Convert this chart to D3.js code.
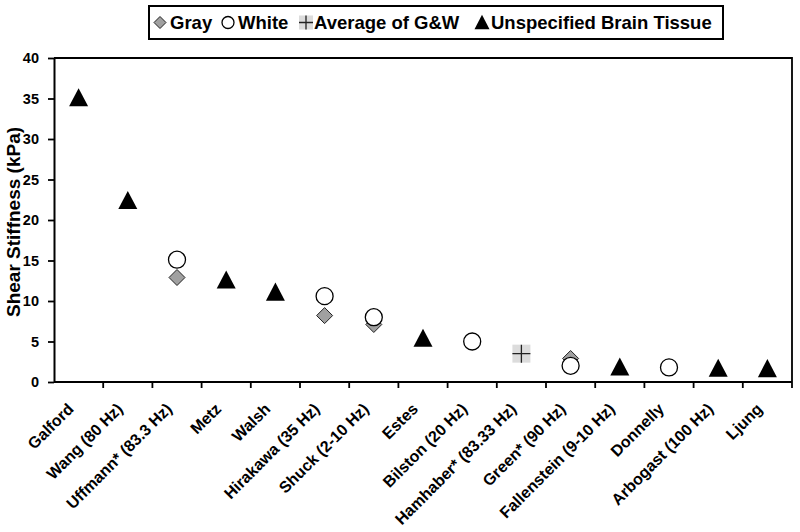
<!DOCTYPE html>
<html>
<head>
<meta charset="utf-8">
<script src="https://cdn.jsdelivr.net/npm/d3@7"></script>
<style>
  html, body { margin: 0; padding: 0; background: #fff; }
  text { font-family: "Liberation Sans", Arial, sans-serif; font-weight: bold; fill: #000; }
</style>
</head>
<body>
<svg id="chart" width="800" height="532"></svg>
<script>
const categories = ["Galford", "Wang (80 Hz)", "Uffmann* (83.3 Hz)", "Metz", "Walsh", "Hirakawa (35 Hz)",
  "Shuck (2-10 Hz)", "Estes", "Bilston (20 Hz)", "Hamhaber* (83.33 Hz)", "Green* (90 Hz)",
  "Fallenstein (9-10 Hz)", "Donnelly", "Arbogast (100 Hz)", "Ljung"];

const grayValues = [
  {cat: "Uffmann* (83.3 Hz)", v: 12.9},
  {cat: "Hirakawa (35 Hz)", v: 8.2},
  {cat: "Shuck (2-10 Hz)", v: 7.1},
  {cat: "Green* (90 Hz)", v: 2.9}
];
const whiteValues = [
  {cat: "Uffmann* (83.3 Hz)", v: 15.1},
  {cat: "Hirakawa (35 Hz)", v: 10.6},
  {cat: "Shuck (2-10 Hz)", v: 8.0},
  {cat: "Bilston (20 Hz)", v: 5.0},
  {cat: "Green* (90 Hz)", v: 2.0},
  {cat: "Donnelly", v: 1.8}
];
const averageValues = [
  {cat: "Hamhaber* (83.33 Hz)", v: 3.5}
];
const unspecifiedValues = [
  {cat: "Galford", v: 35.1},
  {cat: "Wang (80 Hz)", v: 22.4},
  {cat: "Metz", v: 12.6},
  {cat: "Walsh", v: 11.1},
  {cat: "Estes", v: 5.4},
  {cat: "Fallenstein (9-10 Hz)", v: 1.85},
  {cat: "Arbogast (100 Hz)", v: 1.7},
  {cat: "Ljung", v: 1.65}
];
const yTicks = [0, 5, 10, 15, 20, 25, 30, 35, 40];
const legendLabels = ["Gray", "White", "Average of G&W", "Unspecified Brain Tissue"];
const yTitle = "Shear Stiffness (kPa)";

const svg = d3.select("#chart");
const pLeft = 54, pRight = 792, pTop = 58, pBottom = 382;

const x = d3.scaleBand().domain(categories).range([pLeft, pRight]).paddingInner(0).paddingOuter(0);
const y = d3.scaleLinear().domain([0, 40]).range([pBottom, pTop]);
const cx = c => x(c) + x.bandwidth() / 2;

// plot border (top & right)
svg.append("path")
  .attr("d", `M${pLeft},${pTop}H${pRight}V${pBottom}`)
  .attr("fill", "none").attr("stroke", "#000").attr("stroke-width", 1.8);

// Y axis
const yAxis = svg.append("g").attr("transform", `translate(${pLeft},0)`)
  .call(d3.axisLeft(y).tickValues(yTicks).tickSize(6).tickSizeOuter(0).tickPadding(9));
yAxis.select(".domain").attr("stroke-width", 2);
yAxis.selectAll(".tick line").attr("stroke-width", 1.8);
yAxis.selectAll(".tick text").style("font-size", "14.5px").style("font-family", "Liberation Sans, Arial, sans-serif").style("font-weight", "bold").attr("fill", "#000");

// X axis line and ticks at category boundaries
svg.append("line").attr("x1", pLeft).attr("x2", pRight).attr("y1", pBottom).attr("y2", pBottom)
  .attr("stroke", "#000").attr("stroke-width", 2);
const bounds = categories.map(c => x(c)).concat([pRight]);
svg.append("g").selectAll("line").data(bounds.slice(1)).join("line")
  .attr("x1", d => d).attr("x2", d => d).attr("y1", pBottom).attr("y2", pBottom + 6)
  .attr("stroke", "#000").attr("stroke-width", 1.8);

// X labels
svg.append("g").selectAll("text").data(categories).join("text")
  .attr("transform", d => `translate(${cx(d) - 8},${pBottom + 24}) rotate(-45)`)
  .attr("text-anchor", "end")
  .attr("dy", "0.35em")
  .style("font-size", "16px")
  .text(d => d);

// Y title
svg.append("text")
  .attr("transform", `translate(20,${(pTop + pBottom) / 2 + 2}) rotate(-90)`)
  .attr("text-anchor", "middle")
  .style("font-size", "19px")
  .text(yTitle);

// marker drawers
function diamond(g, px, py, s) {
  g.append("path").attr("d", `M${px},${py - s}L${px + s},${py}L${px},${py + s}L${px - s},${py}Z`)
    .attr("fill", "#a0a0a0").attr("stroke", "#222").attr("stroke-width", 1);
}
function circle(g, px, py, r) {
  g.append("circle").attr("cx", px).attr("cy", py).attr("r", r)
    .attr("fill", "#fff").attr("stroke", "#000").attr("stroke-width", 1.3);
}
function plus(g, px, py, s) {
  g.append("rect").attr("x", px - s).attr("y", py - s).attr("width", 2 * s).attr("height", 2 * s)
    .attr("fill", "#dcdcdc");
  g.append("path").attr("d", `M${px - s},${py}H${px + s}M${px},${py - s}V${py + s}`)
    .attr("stroke", "#222").attr("stroke-width", 1.3);
}
function triangle(g, px, py, s) {
  const h = s * 0.9;
  g.append("path").attr("d", `M${px},${py - h / 2 - 1}L${px + s / 2},${py + h / 2}L${px - s / 2},${py + h / 2}Z`)
    .attr("fill", "#000");
}

const marks = svg.append("g");
grayValues.forEach(d => diamond(marks, cx(d.cat), y(d.v), 8));
whiteValues.forEach(d => circle(marks, cx(d.cat), y(d.v), 8.5));
averageValues.forEach(d => plus(marks, cx(d.cat), y(d.v), 9));
unspecifiedValues.forEach(d => triangle(marks, cx(d.cat), y(d.v), 19));

// Legend
const lg = svg.append("g");
lg.append("rect").attr("x", 149).attr("y", 6).attr("width", 574).attr("height", 33)
  .attr("fill", "#fff").attr("stroke", "#000").attr("stroke-width", 2);
const ly = 22.5;
const legendItems = [
  {draw: g => diamond(g, 160, ly, 6), tx: 170},
  {draw: g => circle(g, 228, ly, 6), tx: 238},
  {draw: g => plus(g, 306, ly, 7), tx: 314},
  {draw: g => triangle(g, 482, ly, 15), tx: 491}
];
legendItems.forEach((it, i) => {
  it.draw(lg);
  lg.append("text").attr("x", it.tx).attr("y", ly).attr("dy", "0.36em")
    .style("font-size", "18.5px").text(legendLabels[i]);
});
</script>
</body>
</html>
